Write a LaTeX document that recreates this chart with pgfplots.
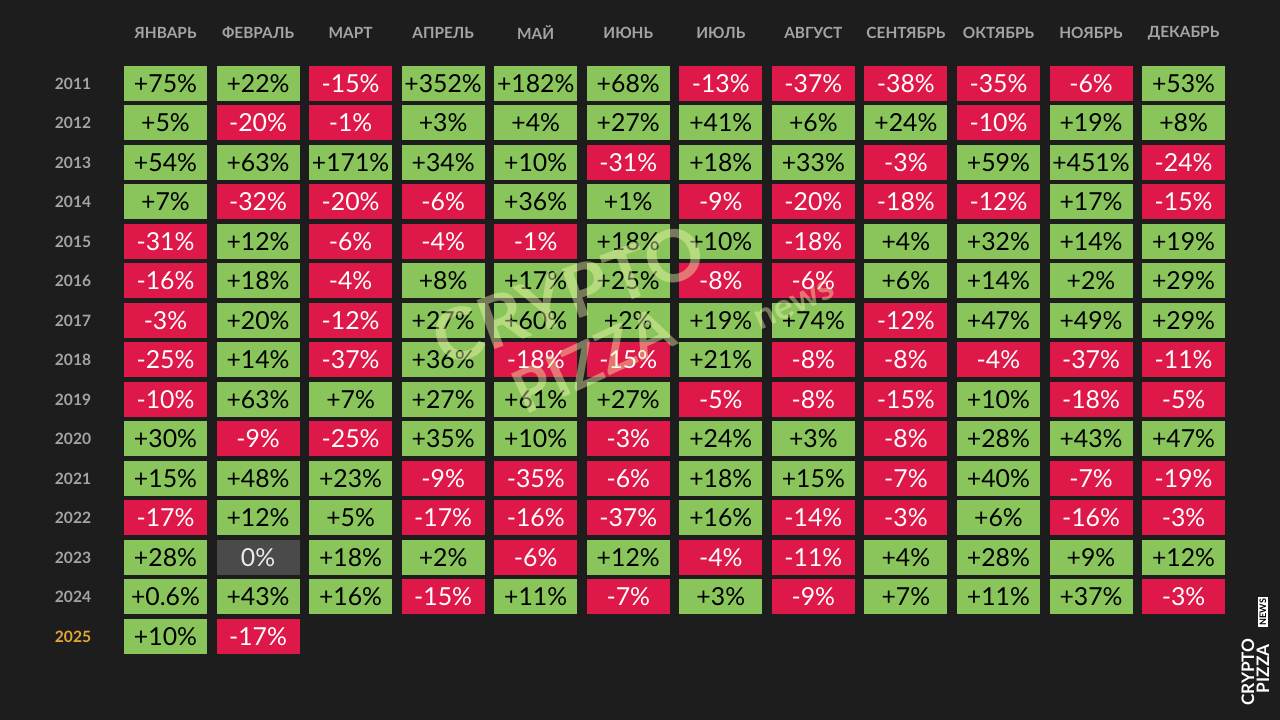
\documentclass[border=0pt]{standalone}
\usepackage{pgfplots}
\pgfplotsset{compat=1.18}
\usepackage{pgfplotstable}
\usepackage{fontspec}
\setmainfont{Lato}
\definecolor{bgc}{HTML}{1D1D1D}
\definecolor{cgreen}{HTML}{89C55A}
\definecolor{cred}{HTML}{DE1848}
\definecolor{cgray}{HTML}{4A4A4A}
\definecolor{lbl}{HTML}{A4A4A4}
\definecolor{gold}{HTML}{E6A833}
\definecolor{wm}{HTML}{F2FAB0}
\pgfdeclareplotmark{cell}{\pgfpathrectangle{\pgfqpoint{-20.75pt}{-8.75pt}}{\pgfqpoint{41.5pt}{17.5pt}}\pgfusepathqfill}
\newcommand{\cellfont}{\fontsize{12.4}{14}\selectfont}

\pgfplotstableread{
m y v
0 2011 75
1 2011 22
2 2011 -15
3 2011 352
4 2011 182
5 2011 68
6 2011 -13
7 2011 -37
8 2011 -38
9 2011 -35
10 2011 -6
11 2011 53
0 2012 5
1 2012 -20
2 2012 -1
3 2012 3
4 2012 4
5 2012 27
6 2012 41
7 2012 6
8 2012 24
9 2012 -10
10 2012 19
11 2012 8
0 2013 54
1 2013 63
2 2013 171
3 2013 34
4 2013 10
5 2013 -31
6 2013 18
7 2013 33
8 2013 -3
9 2013 59
10 2013 451
11 2013 -24
0 2014 7
1 2014 -32
2 2014 -20
3 2014 -6
4 2014 36
5 2014 1
6 2014 -9
7 2014 -20
8 2014 -18
9 2014 -12
10 2014 17
11 2014 -15
0 2015 -31
1 2015 12
2 2015 -6
3 2015 -4
4 2015 -1
5 2015 18
6 2015 10
7 2015 -18
8 2015 4
9 2015 32
10 2015 14
11 2015 19
0 2016 -16
1 2016 18
2 2016 -4
3 2016 8
4 2016 17
5 2016 25
6 2016 -8
7 2016 -6
8 2016 6
9 2016 14
10 2016 2
11 2016 29
0 2017 -3
1 2017 20
2 2017 -12
3 2017 27
4 2017 60
5 2017 2
6 2017 19
7 2017 74
8 2017 -12
9 2017 47
10 2017 49
11 2017 29
0 2018 -25
1 2018 14
2 2018 -37
3 2018 36
4 2018 -18
5 2018 -15
6 2018 21
7 2018 -8
8 2018 -8
9 2018 -4
10 2018 -37
11 2018 -11
0 2019 -10
1 2019 63
2 2019 7
3 2019 27
4 2019 61
5 2019 27
6 2019 -5
7 2019 -8
8 2019 -15
9 2019 10
10 2019 -18
11 2019 -5
0 2020 30
1 2020 -9
2 2020 -25
3 2020 35
4 2020 10
5 2020 -3
6 2020 24
7 2020 3
8 2020 -8
9 2020 28
10 2020 43
11 2020 47
0 2021 15
1 2021 48
2 2021 23
3 2021 -9
4 2021 -35
5 2021 -6
6 2021 18
7 2021 15
8 2021 -7
9 2021 40
10 2021 -7
11 2021 -19
0 2022 -17
1 2022 12
2 2022 5
3 2022 -17
4 2022 -16
5 2022 -37
6 2022 16
7 2022 -14
8 2022 -3
9 2022 6
10 2022 -16
11 2022 -3
0 2023 28
1 2023 0
2 2023 18
3 2023 2
4 2023 -6
5 2023 12
6 2023 -4
7 2023 -11
8 2023 4
9 2023 28
10 2023 9
11 2023 12
0 2024 0.6
1 2024 43
2 2024 16
3 2024 -15
4 2024 11
5 2024 -7
6 2024 3
7 2024 -9
8 2024 7
9 2024 11
10 2024 37
11 2024 -3
0 2025 10
1 2025 -17
}\btc

\begin{document}
\begin{tikzpicture}
\begin{axis}[
  set layers=standard,
  scale only axis, width=640pt, height=360pt,
  xmin=-1.7882, xmax=12.042, ymin=-2027.114, ymax=-2008.886,
  axis background/.style={fill=bgc},
  axis line style={draw=none}, major tick length=0pt, tick style={draw=none},
  /pgf/number format/assume math mode=true,
  xtick={0,1,2,3,4,5,6,7,8,9,10,11},
  xticklabels={ЯНВАРЬ,ФЕВРАЛЬ,МАРТ,АПРЕЛЬ,МАЙ,ИЮНЬ,ИЮЛЬ,АВГУСТ,СЕНТЯБРЬ,ОКТЯБРЬ,НОЯБРЬ,ДЕКАБРЬ},
  xticklabel pos=upper,
  xticklabel style={anchor=center, yshift=-16.5pt, inner sep=0pt, text=lbl, font=\fontsize{7.7}{9}\selectfont\bfseries},
  ytick={-2011,-2012,-2013,-2014,-2015,-2016,-2017,-2018,-2019,-2020,-2021,-2022,-2023,-2024,-2025},
  yticklabels={2011,2012,2013,2014,2015,2016,2017,2018,2019,2020,2021,2022,2023,2024,\textcolor{gold}{2025}},
  yticklabel style={anchor=center, xshift=36.5pt, inner sep=0pt, text=lbl, font=\fontsize{7.8}{9}\selectfont\bfseries},
  nodes near coords align={center},
  clip=false,
]
% positive months
\addplot[only marks, mark=cell, color=cgreen, mark options={fill=cgreen, draw=none},
  restrict expr to domain={\thisrow{v}}{0.01:10000},
  point meta=explicit,
  nodes near coords={+\pgfmathprintnumber{\pgfplotspointmeta}\%},
  every node near coord/.append style={text=black, font=\cellfont, anchor=center}]
  table[x=m, y expr=-\thisrow{y}, meta=v]{\btc};
% negative months
\addplot[only marks, mark=cell, color=cred, mark options={fill=cred, draw=none},
  restrict expr to domain={\thisrow{v}}{-10000:-0.01},
  point meta=explicit,
  nodes near coords={-\pgfmathprintnumber{\pgfplotspointmeta}\%},
  every node near coord/.append style={text=white, font=\cellfont, anchor=center}]
  table[x=m, y expr=-\thisrow{y}, meta expr=-\thisrow{v}]{\btc};
% flat month
\addplot[only marks, mark=cell, color=cgray, mark options={fill=cgray, draw=none},
  nodes near coords={0\%},
  every node near coord/.append style={text=white!92!black, font=\cellfont, anchor=center}]
  coordinates {(1,-2023)};
% watermark (on top of the cells)
\begin{pgfonlayer}{axis foreground}
\node[rotate=20, opacity=0.42, text=wm, font=\fontsize{36}{40}\selectfont\bfseries] at (axis cs:4.35,-2016.35) {CRYPTO};
\node[rotate=25, opacity=0.42, text=wm, font=\fontsize{30}{34}\selectfont\bfseries] at (axis cs:4.62,-2018.0) {PIZZA};
\node[rotate=25, opacity=0.42, text=wm, font=\fontsize{18}{20}\selectfont\bfseries] at (axis cs:6.8,-2016.6) {news};
% logo
\node[rotate=90, text=white, font=\fontsize{8.6}{9}\selectfont\bfseries, inner sep=0pt] at (axis cs:11.696,-2025.90) {CRYPTO};
\node[rotate=90, text=white, font=\fontsize{8.6}{9}\selectfont\bfseries, inner sep=0pt] at (axis cs:11.858,-2025.82) {PIZZA};
\node[rotate=90, text=black, fill=white, font=\fontsize{4.5}{5}\selectfont\bfseries, inner sep=0.8pt] at (axis cs:11.858,-2024.38) {NEWS};
\end{pgfonlayer}
\end{axis}
\end{tikzpicture}
\end{document}
